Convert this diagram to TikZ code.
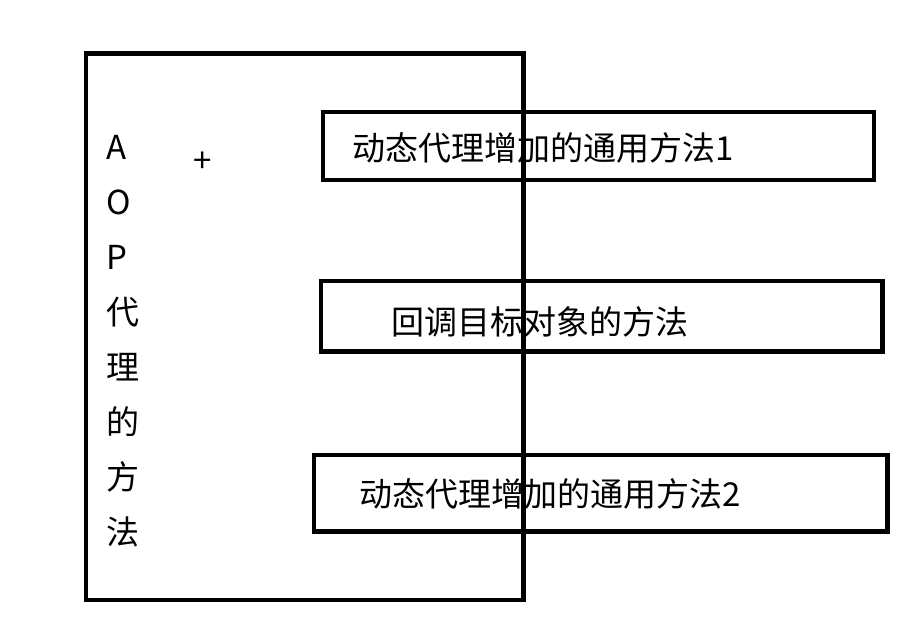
\documentclass[tikz,border=0pt]{standalone}
\usepackage{fontspec}
\newfontfamily\cjk{Noto Sans CJK SC}
\tikzset{
  frame/.style={draw=black, line width=4.8pt, inner sep=0pt, outer sep=0pt, rectangle, anchor=north west},
  lbl/.style={inner sep=0pt, font=\cjk\fontsize{33}{40}\selectfont, anchor=west},
  vt/.style={inner sep=0pt, font=\cjk\fontsize{33}{40}\selectfont, anchor=base west},
}
\begin{document}
\begin{tikzpicture}[x=1pt, y=-1pt]
\useasboundingbox (0,0) rectangle (911,622);
\fill[white] (0,0) rectangle (911,622);
% big frame
\node[frame, minimum width=437.5pt, minimum height=546.5pt] (aop) at (86,53.5) {};
% method boxes
\node[frame, minimum width=551pt, minimum height=68pt] (b1) at (323,112) {};
\node[frame, minimum width=561.5pt, minimum height=70.5pt] (b2) at (321,281) {};
\node[frame, minimum width=573.5pt, minimum height=76.5pt] (b3) at (314,455) {};
% texts
\node[lbl] (t1) at (352,148) {动态代理增加的通用方法1};
\node[lbl] (t2) at (391,321.5) {回调目标对象的方法};
\node[lbl] (t3) at (359.5,494) {动态代理增加的通用方法2};
% vertical label
\foreach \c [count=\i] in {A,O,P,代,理,的,方,法}
  \node[vt] (v\i) at (106,{159+55*(\i-1)}) {\c};
% plus
\node[vt, anchor=base] (plus) at (202.5,172) {+};
\end{tikzpicture}
\end{document}
